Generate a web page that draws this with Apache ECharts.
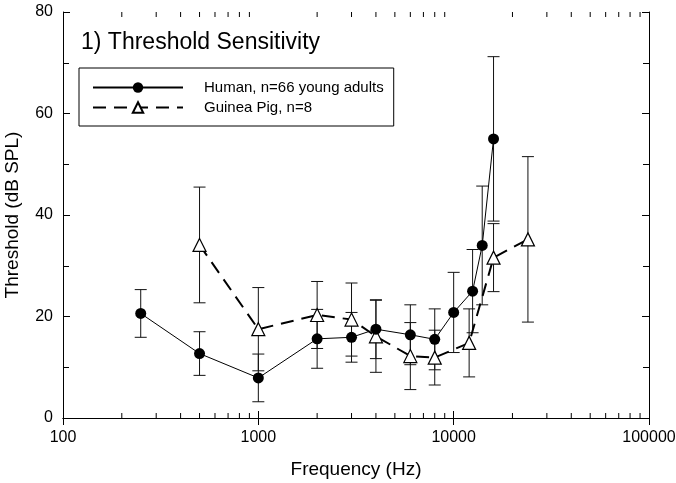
<!DOCTYPE html>
<html>
<head>
<meta charset="utf-8">
<script src="https://cdn.jsdelivr.net/npm/echarts@6/dist/echarts.min.js"></script>
<style>
  html, body { margin: 0; padding: 0; background: #fff; }
  #chart { width: 676px; height: 483px; }
</style>
</head>
<body>
<div id="chart"></div>
<script>
// values
const humanFreq = [250, 500, 1000, 2000, 3000, 4000, 6000, 8000, 10000, 12500, 14000, 16000];
const humanMean = [20.6, 12.7, 7.9, 15.6, 15.9, 17.5, 16.4, 15.5, 20.8, 25.0, 34.0, 55.0];
const humanErr = [4.7, 4.3, 4.7, 5.8, 4.9, 5.8, 5.9, 6.0, 7.9, 8.2, 11.7, 16.2];

const gpFreq = [500, 1000, 2000, 3000, 4000, 6000, 8000, 12000, 16000, 24000];
const gpMean = [34.1, 17.5, 20.3, 19.4, 16.1, 12.2, 11.9, 14.8, 31.6, 35.2];
const gpErr = [11.4, 8.2, 6.6, 7.2, 7.1, 6.6, 5.4, 6.7, 6.7, 16.3];

const xMinorTicks = [200, 300, 400, 500, 600, 700, 800, 900,
  2000, 3000, 4000, 5000, 6000, 7000, 8000, 9000,
  20000, 30000, 40000, 50000, 60000, 70000, 80000, 90000];

const FONT = "Liberation Sans, Arial, sans-serif";

let chart = echarts.init(document.getElementById("chart"));

function errorBars(freq, mean, err) {
  return freq.map((f, i) => [f, mean[i] - err[i], mean[i] + err[i]]);
}

function renderErr(params, api) {
  const lo = api.coord([api.value(0), api.value(1)]);
  const hi = api.coord([api.value(0), api.value(2)]);
  const w = 6;
  const st = { stroke: "#111", lineWidth: 1 };
  return {
    type: "group",
    children: [
      { type: "line", shape: { x1: lo[0], y1: lo[1], x2: hi[0], y2: hi[1] }, style: st },
      { type: "line", shape: { x1: lo[0] - w, y1: lo[1], x2: lo[0] + w, y2: lo[1] }, style: st },
      { type: "line", shape: { x1: hi[0] - w, y1: hi[1], x2: hi[0] + w, y2: hi[1] }, style: st }
    ]
  };
}

// minor log ticks on bottom and top frame
function renderMinor(params, api) {
  const cs = params.coordSys;
  const x = api.coord([api.value(0), 0])[0];
  const st = { stroke: "#000", lineWidth: 1 };
  const len = 5;
  return {
    type: "group",
    children: [
      { type: "line", shape: { x1: x, y1: cs.y + cs.height, x2: x, y2: cs.y + cs.height - len }, style: st },
      { type: "line", shape: { x1: x, y1: cs.y, x2: x, y2: cs.y + len }, style: st }
    ]
  };
}

const logAxis = {
  type: "log",
  logBase: 10,
  min: 100,
  max: 100000,
  axisLine: { show: true, lineStyle: { color: "#000", width: 1 } },
  axisTick: { show: true, inside: true, length: 7, lineStyle: { color: "#000" } },
  splitLine: { show: false }
};

const valAxis = {
  type: "value",
  min: 0,
  max: 80,
  interval: 20,
  axisLine: { show: true, lineStyle: { color: "#000", width: 1 } },
  axisTick: { show: true, inside: true, length: 7, lineStyle: { color: "#000" } },
  minorTick: { show: true, splitNumber: 2, length: 6, lineStyle: { color: "#000" } },
  splitLine: { show: false }
};

let option = {
  animation: false,
  backgroundColor: "#fff",
  textStyle: { fontFamily: FONT, color: "#000" },
  title: {
    text: "1) Threshold Sensitivity",
    left: 81,
    top: 31,
    padding: 0,
    textStyle: { fontFamily: FONT, fontSize: 23, fontWeight: "normal", color: "#000" }
  },
  legend: {
    orient: "vertical",
    left: 79,
    top: 68,
    padding: [12, 10, 11, 13],
    borderColor: "#000",
    borderWidth: 1,
    itemWidth: 90,
    itemHeight: 13,
    itemGap: 5,
    textStyle: { fontFamily: FONT, fontSize: 15, color: "#000", padding: [0, 0, 0, 16] },
    data: ["Human, n=66 young adults", "Guinea Pig, n=8"]
  },
  grid: { left: 63, right: 27, top: 12, bottom: 65, outerBoundsMode: "none" },
  xAxis: [
    Object.assign({}, logAxis, {
      position: "bottom",
      name: "Frequency (Hz)",
      nameLocation: "middle",
      nameGap: 42,
      nameTextStyle: { fontFamily: FONT, fontSize: 19, color: "#000" },
      axisLabel: {
        fontFamily: FONT, fontSize: 16, color: "#000", margin: 12,
        formatter: v => String(Math.round(v))
      }
    }),
    Object.assign({}, logAxis, { position: "top", axisLabel: { show: false } })
  ],
  yAxis: [
    Object.assign({}, valAxis, {
      position: "left",
      name: "Threshold (dB SPL)",
      nameLocation: "middle",
      nameGap: 41,
      nameTextStyle: { fontFamily: FONT, fontSize: 19, color: "#000" },
      axisLabel: { fontFamily: FONT, fontSize: 16, color: "#000", margin: 10 }
    }),
    Object.assign({}, valAxis, { position: "right", axisLabel: { show: false } })
  ],
  series: [
    {
      type: "custom",
      renderItem: renderMinor,
      xAxisIndex: 0,
      yAxisIndex: 0,
      silent: true,
      clip: false,
      data: xMinorTicks.map(v => [v, 0]),
      z: 1
    },
    {
      type: "custom",
      renderItem: renderErr,
      xAxisIndex: 0,
      yAxisIndex: 0,
      clip: false,
      encode: { x: 0, y: [1, 2] },
      data: errorBars(humanFreq, humanMean, humanErr),
      z: 2
    },
    {
      type: "custom",
      renderItem: renderErr,
      xAxisIndex: 0,
      yAxisIndex: 0,
      clip: false,
      encode: { x: 0, y: [1, 2] },
      data: errorBars(gpFreq, gpMean, gpErr),
      z: 2
    },
    {
      name: "Human, n=66 young adults",
      type: "line",
      xAxisIndex: 0,
      yAxisIndex: 0,
      data: humanFreq.map((f, i) => [f, humanMean[i]]),
      symbol: "circle",
      symbolSize: 11,
      itemStyle: { color: "#000" },
      lineStyle: { color: "#000", width: 1 },
      z: 4
    },
    {
      name: "Guinea Pig, n=8",
      type: "line",
      xAxisIndex: 0,
      yAxisIndex: 0,
      data: gpFreq.map((f, i) => [f, gpMean[i]]),
      symbol: "triangle",
      symbolSize: 13,
      itemStyle: { color: "#fff", borderColor: "#000", borderWidth: 1.2 },
      lineStyle: { color: "#000", width: 2, type: [13, 8] },
      z: 3
    }
  ]
};

chart.setOption(option, true);
</script>
</body>
</html>
